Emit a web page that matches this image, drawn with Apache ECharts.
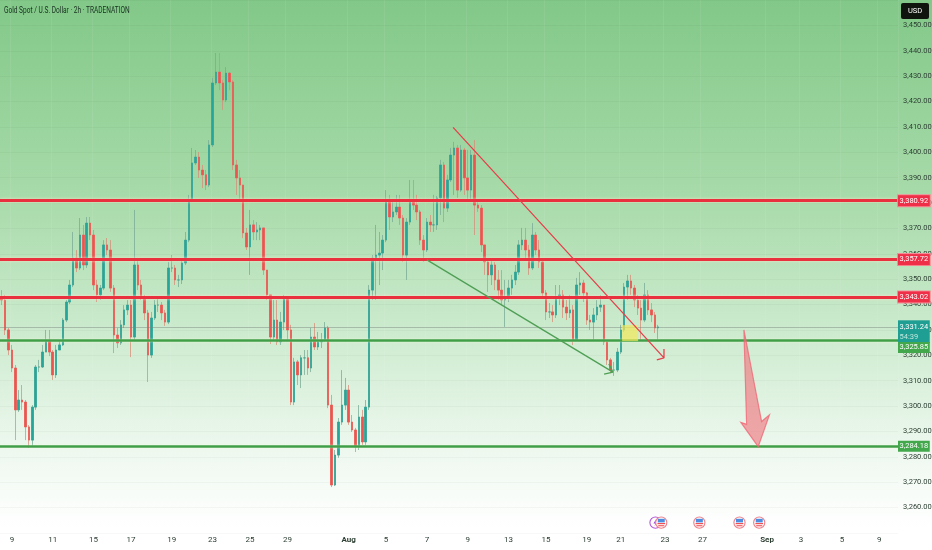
<!DOCTYPE html>
<html><head><meta charset="utf-8">
<script src="https://cdn.jsdelivr.net/npm/echarts@6/dist/echarts.min.js"></script>
<style>html,body{margin:0;padding:0;background:#fff}#c{width:932px;height:550px}</style></head>
<body><div id="c"></div>
<script>
const closes=[3341.8,3330.0,3322.1,3315.0,3298.5,3302.4,3301.6,3291.8,3286.6,3299.6,3315.4,3315.4,3321.3,3326.0,3321.3,3312.3,3322.1,3324.1,3333.9,3341.0,3347.7,3358.3,3354.4,3367.4,3355.6,3372.1,3367.4,3347.7,3343.8,3346.5,3363.5,3361.5,3346.5,3328.0,3324.9,3332.0,3337.9,3339.8,3327.2,3355.6,3347.7,3343.0,3336.7,3320.1,3334.7,3339.8,3339.8,3336.7,3333.1,3354.4,3354.4,3349.7,3349.7,3356.4,3365.4,3381.2,3395.8,3398.1,3393.0,3391.1,3387.1,3402.9,3427.3,3431.6,3427.3,3420.6,3431.2,3427.7,3395.0,3389.9,3387.1,3368.2,3362.7,3371.4,3368.6,3369.4,3370.2,3353.6,3343.8,3327.2,3333.9,3325.3,3333.1,3343.0,3330.0,3301.6,3317.4,3312.3,3319.0,3319.0,3315.0,3327.2,3323.3,3325.3,3326.0,3330.8,3300.4,3268.9,3280.7,3293.7,3300.4,3306.3,3293.7,3290.6,3283.9,3295.7,3285.9,3299.6,3345.7,3358.3,3359.5,3360.3,3365.4,3381.2,3374.5,3376.5,3378.4,3374.1,3359.5,3372.5,3381.2,3379.2,3376.5,3365.4,3361.5,3372.5,3371.4,3371.4,3382.0,3395.0,3378.0,3389.1,3398.9,3401.7,3385.1,3400.9,3389.9,3385.1,3398.9,3379.2,3378.0,3363.5,3356.8,3351.7,3355.6,3349.7,3345.7,3341.8,3342.6,3346.5,3349.7,3352.8,3363.5,3365.4,3361.5,3354.4,3367.4,3361.5,3356.8,3344.6,3337.1,3337.1,3335.9,3342.6,3343.8,3339.0,3336.7,3337.9,3326.0,3347.7,3348.5,3344.6,3333.9,3333.1,3335.9,3339.0,3339.8,3325.3,3318.2,3314.2,3314.2,3321.3,3330.0,3346.9,3349.3,3346.5,3341.8,3338.6,3333.9,3343.8,3337.9,3335.9,3330.8,3331.2];
const highs=[3345.7,3343.8,3330.8,3324.1,3316.2,3306.3,3308.3,3302.4,3292.5,3300.4,3316.2,3318.2,3324.1,3330.0,3330.0,3322.1,3324.1,3326.0,3334.7,3341.8,3349.7,3368.6,3361.5,3374.1,3371.4,3374.5,3374.5,3369.4,3349.7,3347.7,3365.4,3366.2,3365.4,3347.7,3330.8,3333.9,3339.8,3341.8,3341.8,3377.3,3357.6,3349.7,3343.8,3337.9,3337.1,3341.8,3342.6,3341.0,3337.9,3356.8,3359.5,3355.6,3351.7,3358.3,3368.6,3383.2,3401.7,3400.9,3400.1,3395.0,3393.0,3404.8,3429.3,3439.1,3439.1,3428.5,3433.6,3431.6,3428.5,3397.0,3393.0,3387.1,3370.2,3377.3,3373.3,3372.5,3371.4,3370.2,3353.6,3343.8,3341.8,3341.8,3337.1,3343.8,3342.6,3332.0,3319.0,3318.2,3320.1,3322.1,3322.1,3330.8,3332.7,3329.2,3328.8,3333.1,3331.6,3304.4,3282.7,3295.3,3314.2,3311.1,3308.3,3296.5,3291.4,3300.4,3298.5,3302.4,3347.7,3359.5,3371.4,3368.6,3367.4,3385.1,3383.2,3381.2,3383.2,3383.2,3375.3,3374.1,3389.1,3389.1,3383.2,3377.3,3367.4,3374.1,3375.3,3383.2,3382.8,3397.0,3396.2,3391.1,3401.7,3404.1,3402.9,3402.9,3401.7,3400.9,3400.9,3404.8,3381.2,3379.2,3363.5,3358.3,3358.3,3356.8,3353.6,3353.6,3349.7,3349.7,3351.7,3355.6,3365.4,3370.2,3370.2,3363.5,3372.1,3368.6,3365.4,3357.6,3345.7,3340.6,3339.8,3347.7,3347.7,3345.7,3341.8,3343.8,3339.8,3350.5,3352.8,3349.7,3345.0,3335.9,3338.6,3341.8,3343.8,3339.8,3326.0,3319.0,3317.4,3322.9,3332.0,3348.5,3351.7,3351.7,3347.7,3343.8,3341.8,3348.5,3345.7,3340.6,3337.1,3332.0];
const lows=[3339.8,3328.0,3320.1,3313.4,3286.6,3297.7,3298.5,3286.6,3283.5,3283.9,3298.5,3313.4,3315.0,3322.1,3319.7,3310.3,3311.1,3322.1,3323.7,3333.1,3340.2,3346.9,3352.8,3353.6,3353.6,3354.4,3365.4,3345.7,3341.0,3341.8,3345.7,3359.5,3345.0,3320.9,3322.9,3324.1,3330.8,3335.9,3319.3,3326.0,3345.7,3341.8,3333.9,3309.5,3319.0,3333.9,3337.1,3333.9,3331.6,3332.3,3352.8,3347.7,3346.9,3348.1,3355.6,3364.6,3380.4,3395.0,3389.9,3385.9,3385.1,3386.3,3402.1,3426.5,3424.5,3416.7,3419.8,3424.5,3393.0,3383.2,3381.2,3366.2,3361.5,3351.7,3365.4,3365.4,3365.4,3351.7,3341.8,3324.5,3326.0,3324.1,3324.1,3330.0,3326.0,3300.4,3300.4,3308.3,3307.1,3312.3,3312.3,3313.4,3322.1,3322.1,3322.9,3325.3,3299.2,3268.1,3268.5,3279.6,3292.6,3298.5,3292.6,3289.8,3281.9,3282.7,3284.7,3284.7,3298.5,3341.8,3341.8,3347.7,3353.6,3364.6,3369.4,3372.5,3375.3,3371.4,3356.8,3349.7,3371.4,3377.3,3373.3,3363.5,3356.8,3360.7,3368.6,3368.6,3369.4,3375.3,3372.5,3376.5,3388.3,3383.2,3382.0,3384.4,3383.2,3381.2,3381.2,3367.4,3376.5,3360.7,3351.7,3345.0,3347.7,3345.7,3341.8,3339.8,3331.2,3341.0,3343.8,3347.7,3351.7,3361.5,3357.6,3351.7,3353.6,3359.5,3354.4,3342.6,3333.9,3334.7,3333.1,3334.7,3339.8,3334.7,3333.9,3334.7,3324.1,3326.0,3343.8,3341.0,3332.0,3330.0,3326.0,3333.9,3337.1,3324.1,3316.2,3313.0,3311.9,3313.4,3320.5,3329.2,3341.8,3343.8,3339.0,3335.9,3326.0,3333.1,3335.9,3333.1,3328.8,3326.0];
const firstOpen=3343;
const slotCount=264;
const tickSlots=[3,15,27,38,50,62,73,84,102,113,125,137,149,160,172,182,195,206,225,235,247,258];
const tickLabels=['9','11','15','17','19','23','25','29','Aug','5','7','9','13','15','19','21','23','27','Sep','3','5','9'];
const redLevels=[3380.92,3357.72,3343.02];
const greenLevels=[3325.85,3284.18];
const lastPrice=3331.24;
const countdown='54:39';
const downTrend=[[133.2,3409.8],[195.2,3319],[193.1,3318.2],[195.2,3319],[195.2,3322.5]];
const greenTrend=[[125.5,3357.6],[180.2,3313.4],[177.6,3312.6],[180.2,3313.4],[179,3316.6]];
const zone=[[182.9,3331.9],[187.6,3325.6]];
const bigArrow=[[218.7,3330],[223.9,3293.9],[226.2,3296.5],[222.9,3284],[217.8,3293.6],[219.5,3292.8]];
const events=[[192.7,3254.1,'bolt'],[194.4,3254.1,'us'],[205.6,3254.1,'us'],[217.4,3254.1,'us'],[223.2,3254.1,'us']];
const titleText='Gold Spot / U.S. Dollar · 2h · TRADENATION';

const FONT='Roboto,"Noto Sans",sans-serif';
const UP='#26a69a',DOWN='#ef5350';
const categories=[];for(let i=0;i<slotCount;i++){const k=tickSlots.indexOf(i);categories.push(k>=0?tickLabels[k]:'');}
const fmt=v=>v.toLocaleString('en-US',{minimumFractionDigits:2,maximumFractionDigits:2});
const opens=closes.map((c,i)=>i?closes[i-1]:firstOpen);
const wicks=closes.map((c,i)=>[opens[i],c,lows[i],highs[i]]);
const bodies=closes.map((c,i)=>[opens[i],c,Math.min(opens[i],c),Math.max(opens[i],c)]);

function tag(value,text,bg,border,line,dy){
 return {yAxis:value,lineStyle:line,
  label:{show:true,position:'end',distance:0,formatter:text,color:'#fff',backgroundColor:bg,borderColor:border,borderWidth:border?1:0,
   padding:[1.5,1.5,1.5,1.5],fontFamily:FONT,fontSize:7.5,lineHeight:8,align:'left',offset:[0,dy||0]}};
}
const redLine={color:'#e9303f',width:3,type:'solid',shadowColor:'rgba(255,225,200,.9)',shadowBlur:3};
const greenLine={color:'#3f9e48',width:2.5,type:'solid',shadowColor:'rgba(255,255,220,.7)',shadowBlur:2};
const lastLine={color:'rgba(120,130,125,.45)',width:1,type:'solid'};
const lastTag=tag(lastPrice,fmt(lastPrice)+'\n{m|'+countdown+'}','#1f9e93',null,lastLine,5);
lastTag.label.lineHeight=10;
lastTag.label.padding=[1.5,1.5,1.5,1.5];
lastTag.label.rich={m:{color:'#bfe9df',fontFamily:FONT,fontSize:7.5,lineHeight:10,width:28}};

const chart=echarts.init(document.getElementById('c'),null,{renderer:'canvas'});
chart.setOption({
 animation:false,
 backgroundColor:{type:'linear',x:0,y:0,x2:0,y2:1,colorStops:[
  {offset:0,color:'#82c888'},{offset:.36,color:'#a8dbaa'},{offset:.62,color:'#cfecd1'},{offset:.82,color:'#eef8ef'},{offset:.96,color:'#ffffff'},{offset:1,color:'#ffffff'}]},
 grid:{left:0,right:34,top:0,bottom:17,containLabel:false,outerBoundsMode:'none'},
 xAxis:[
  {type:'category',data:categories,boundaryGap:true,
   axisLine:{show:false},axisTick:{show:false},
   axisLabel:{interval:i=>tickSlots.includes(i),margin:3,fontFamily:FONT,fontSize:8,color:'#2d3f33',hideOverlap:false,
     formatter:v=>(v==='Aug'||v==='Sep')?'{b|'+v+'}':v,rich:{b:{fontFamily:FONT,fontSize:8,fontWeight:'bold',color:'#2d3f33'}}},
   splitLine:{show:true,interval:i=>tickSlots.includes(i),lineStyle:{color:'rgba(255,255,255,.07)',width:1}}},
  {type:'value',min:0,max:slotCount,show:false,splitLine:{show:false}}
 ],
 yAxis:{type:'value',position:'right',min:3250,max:3460,interval:10,scale:true,
  axisLine:{show:false},axisTick:{show:false},
  axisLabel:{margin:5,fontFamily:FONT,fontSize:7.5,color:'#2d3f33',
    formatter:v=>(v<3260||v>3450)?'':fmt(v)},
  splitLine:{show:true,lineStyle:{color:'rgba(0,40,10,.03)',width:1}}},
 series:[
  {type:'candlestick',name:'wicks',data:wicks,barWidth:2,z:2,silent:true,
   itemStyle:{color:UP,color0:DOWN,borderColor:'rgba(120,170,150,.75)',borderColor0:'rgba(215,140,120,.75)',borderWidth:1}},
  {type:'candlestick',name:'bodies',data:bodies,barWidth:2,z:3,silent:true,
   itemStyle:{color:UP,color0:DOWN,borderColor:UP,borderColor0:DOWN,borderWidth:0.4},
   markLine:{silent:true,symbol:'none',z:4,precision:2,animation:false,
    data:[lastTag]
     .concat(redLevels.map(v=>tag(v,fmt(v),'#ee2f47','#f78a96',redLine)))
     .concat(greenLevels.map((v,i)=>tag(v,fmt(v),'#43a84c',null,greenLine,i?0:7)))}},
  {type:'custom',name:'zone',xAxisIndex:1,yAxisIndex:0,z:5,silent:true,data:[0],encode:{x:-1,y:-1},
   renderItem:(p,api)=>{
    const a=api.coord(zone[0]),b=api.coord(zone[1]);
    return {type:'rect',shape:{x:a[0],y:a[1],width:b[0]-a[0],height:b[1]-a[1]},style:{fill:'rgba(244,232,90,.7)'}};}},
  {type:'line',name:'downTrend',xAxisIndex:1,yAxisIndex:0,data:downTrend,symbol:'none',z:6,silent:true,lineStyle:{color:'#e6404c',width:1.3}},
  {type:'line',name:'greenTrend',xAxisIndex:1,yAxisIndex:0,data:greenTrend,symbol:'none',z:6,silent:true,lineStyle:{color:'#4f9f55',width:1.3}},
  {type:'custom',name:'bigArrow',xAxisIndex:1,yAxisIndex:0,z:6,silent:true,data:[0],encode:{x:-1,y:-1},
   renderItem:(p,api)=>({type:'polygon',shape:{points:bigArrow.map(q=>api.coord(q))},
     style:{fill:'rgba(240,115,125,.62)',stroke:'rgba(240,105,120,.8)',lineWidth:1.2}})},
  {type:'custom',name:'events',xAxisIndex:1,yAxisIndex:0,z:7,silent:true,data:events,encode:{x:0,y:1},
   renderItem:(p,api)=>{
    const c=api.coord([api.value(0),api.value(1)]),kind=events[p.dataIndex][2];
    if(kind==='bolt')return {type:'group',x:c[0],y:c[1],children:[
      {type:'circle',shape:{cx:0,cy:0,r:5.6},style:{fill:'#fff',stroke:'#b45ad8',lineWidth:1.1}},
      {type:'polygon',shape:{points:[[1,-4],[-2,1],[0,1],[-1,4],[2,-1],[0,-1]]},style:{fill:'#a13fd0'}}]};
    return {type:'group',x:c[0],y:c[1],children:[
      {type:'circle',shape:{cx:0,cy:0,r:5.6},style:{fill:'#fff',stroke:'#ee7f88',lineWidth:1.1}},
      {type:'rect',shape:{x:-3.5,y:-3.8,width:7,height:3.6},style:{fill:'#4e8de0'}},
      {type:'rect',shape:{x:-3.8,y:0.4,width:7.6,height:1.2},style:{fill:'#ef4f55'}},
      {type:'rect',shape:{x:-3,y:2.6,width:6,height:1.1},style:{fill:'#ef4f55'}}]};
   }}
 ],
 graphic:[
  {type:'text',left:4,top:6,z:100,scaleX:.69,originX:0,style:{text:titleText,fill:'#17301f',font:'9.5px '+FONT}},
  {type:'group',left:901,top:3,z:100,children:[
   {type:'rect',shape:{x:0,y:0,width:28,height:16,r:2},style:{fill:'#10140f'}},
   {type:'text',x:14,y:8,style:{text:'USD',fill:'#fff',font:'7.5px '+FONT,textAlign:'center',textVerticalAlign:'middle'}}]}]
});
</script></body></html>
